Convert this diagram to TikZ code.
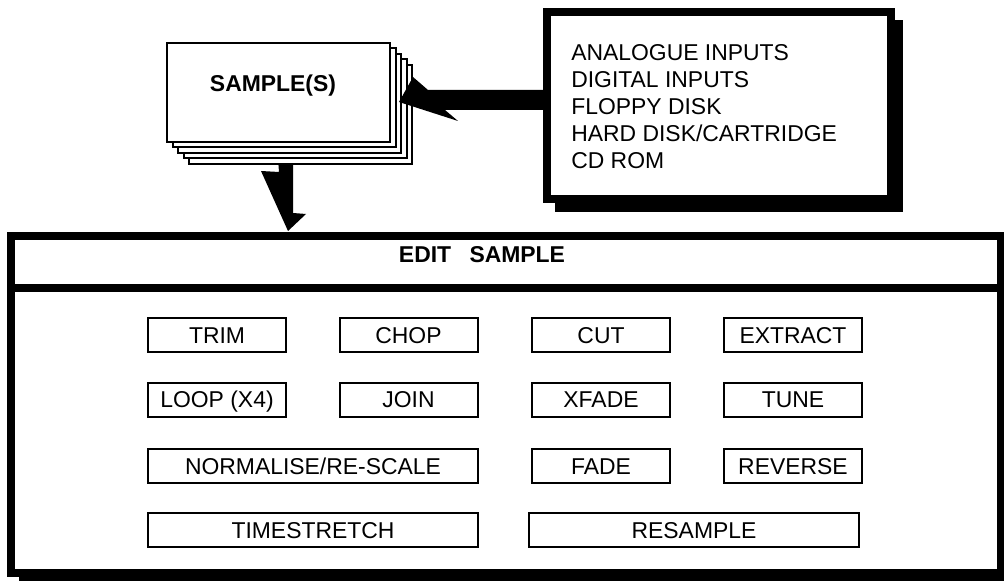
\documentclass[tikz,border=0pt]{standalone}
\usepackage{fontspec}
\setmainfont{Liberation Sans}
\newcommand{\boxfont}{\fontsize{16.3}{19.2}\selectfont}

\begin{document}
\begin{tikzpicture}[x=0.25mm,y=-0.25mm,
	heavy/.style={line width=2mm},
	sheet/.style={draw,fill=white,line width=0.5mm},
	tool/.style={draw,line width=0.5mm,minimum height=8.5mm,minimum width=34.5mm,inner sep=0pt,text height=11.7pt,text depth=0pt,font=\boxfont},
	widetool/.style={tool,minimum width=82.5mm}]
		\useasboundingbox (0,0) rectangle (1004,581);
		% sources box
		\fill (555,20) rectangle (903,212);
		\draw[heavy,fill=white] (547,12) rectangle (891,199);
		\node [anchor=north west,align=left,inner sep=0pt,font=\boxfont] (inputs) at (571,44) {ANALOGUE INPUTS\\DIGITAL INPUTS\\FLOPPY DISK\\HARD DISK/CARTRIDGE\\CD ROM};
		% edit box
		\fill (19,244) rectangle (1013,590);
		\draw[heavy,fill=white] (11,236) rectangle (1001,573);
		\draw[heavy] (11,288) -- (1001,288);
		\node [font=\boxfont\bfseries] (edit) at (482,255) {EDIT\hspace{0.8em}SAMPLE};
		% arrow down
		\fill (275,120) -- (293,120) -- (293,213) -- (306,214) -- (288,231) -- (261,171) -- (279,172) -- cycle;
		% sample stack
		\foreach \k in {4,3,2,1,0}
			\draw[sheet] ({167+5.5*\k},{43+5.5*\k}) rectangle ++(223,99);
		\node [anchor=west,font=\boxfont\bfseries] (samples) at (205,86) {SAMPLE(S)};
		% arrow left
		\fill (545,90) -- (428,90) -- (413,77) -- (399,102) -- (458,121) -- (445,110) -- (545,110) -- cycle;
		% functions
		\node [tool] (trim) at (217,335) {TRIM};
		\node [tool] (chop) at (408.5,335) {CHOP};
		\node [tool] (cut) at (601,335) {CUT};
		\node [tool] (extract) at (793,335) {EXTRACT};
		\node [tool] (loop) at (217,399.5) {LOOP (X4)};
		\node [tool] (join) at (408.5,399.5) {JOIN};
		\node [tool] (xfade) at (601,399.5) {XFADE};
		\node [tool] (tune) at (793,399.5) {TUNE};
		\node [widetool] (normalise) at (313,466) {NORMALISE/RE-SCALE};
		\node [tool] (fade) at (601,466) {FADE};
		\node [tool] (reverse) at (793,466) {REVERSE};
		\node [widetool] (timestretch) at (313,530) {TIMESTRETCH};
		\node [widetool] (resample) at (694,530) {RESAMPLE};
	\end{tikzpicture}
\end{document}
